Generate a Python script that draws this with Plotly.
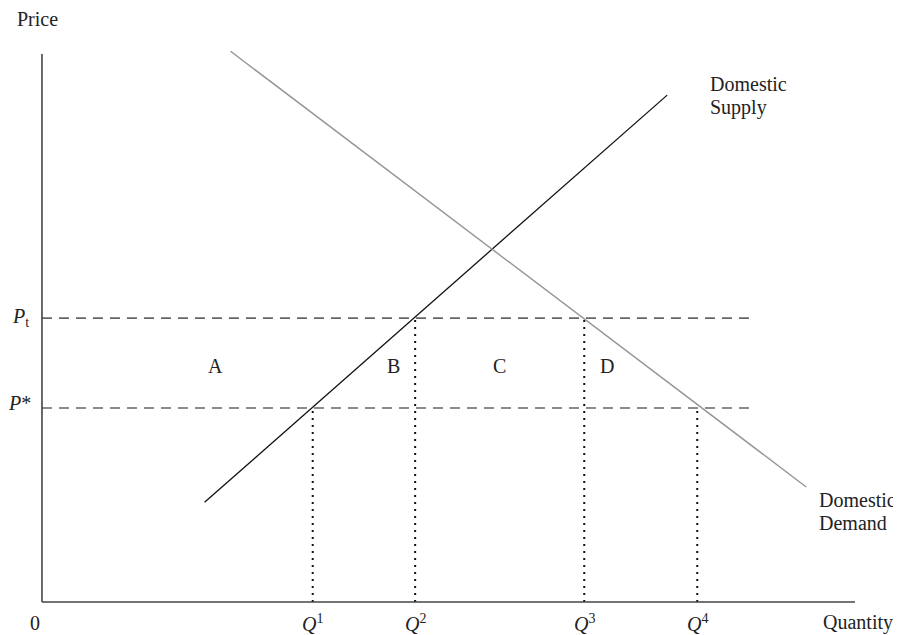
import plotly.graph_objects as go

# Economic values (quantity and price units)
q_values = [33.3, 45.9, 66.7, 80.6]
q_numbers = ["1", "2", "3", "4"]
p_tariff = 51.8
p_world = 35.4
supply_q = [20.0, 76.9]
supply_p = [18.2, 92.5]
demand_q = [23.2, 94.0]
demand_p = [100.5, 21.0]
price_line_end = 87.0
area_labels = ["A", "B", "C", "D"]
area_label_q = [21.4, 43.2, 56.3, 69.5]
area_label_p = 43.0
axis_max = 100

FONT = "Liberation Serif"
FS = 20

fig = go.Figure()

# price lines (dashed)
for p in [p_tariff, p_world]:
    fig.add_trace(go.Scatter(x=[0, price_line_end], y=[p, p], mode="lines",
                             line=dict(color="#666666", width=1.6, dash="10px,7px"),
                             hoverinfo="skip", showlegend=False))

# vertical dotted lines
q_tops = [p_world, p_tariff, p_tariff, p_world]
for q, top in zip(q_values, q_tops):
    fig.add_trace(go.Scatter(x=[q, q], y=[0, top], mode="lines",
                             line=dict(color="#111111", width=2, dash="2px,5px"),
                             hoverinfo="skip", showlegend=False))

# supply and demand
fig.add_trace(go.Scatter(x=supply_q, y=supply_p, mode="lines",
                         line=dict(color="#111111", width=1.3),
                         hoverinfo="skip", showlegend=False))
fig.add_trace(go.Scatter(x=demand_q, y=demand_p, mode="lines",
                         line=dict(color="#959595", width=1.4),
                         hoverinfo="skip", showlegend=False))

# axes lines
fig.add_shape(type="line", x0=0, x1=axis_max, y0=0, y1=0,
              line=dict(color="#444444", width=1.6))
fig.add_shape(type="line", x0=0, x1=0, y0=0, y1=axis_max,
              line=dict(color="#444444", width=1.6))

ann = []
def A(x, y, text, xanchor="center", yanchor="middle", align="center"):
    ann.append(dict(x=x, y=y, xref="x", yref="y",
                    text=text, showarrow=False,
                    xanchor=xanchor, yanchor=yanchor, align=align,
                    font=dict(family=FONT, size=FS, color="#222222")))

A(-0.5, 106.4, "Price")
A(-0.8, -3.8, "0")
A(100.4, -3.8, "Quantity")
for q, n in zip(q_values, q_numbers):
    A(q, -3.8, "<i>Q</i><sup>" + n + "</sup>")
A(-2.6, p_tariff + 0.2, "<i>P</i><sub>t</sub>")
A(-2.8, p_world + 1.0, "<i>P</i>*")
for q, t in zip(area_label_q, area_labels):
    A(q, area_label_p, t)
A(81.9, 94.5, "Domestic", xanchor="left", align="left")
A(81.9, 90.3, "Supply", xanchor="left", align="left")
A(95.3, 18.6, "Domestic", xanchor="left", align="left")
A(95.3, 14.5, "Demand", xanchor="left", align="left")

fig.update_layout(
    width=893, height=627,
    margin=dict(l=0, r=0, t=0, b=0),
    paper_bgcolor="white", plot_bgcolor="white",
    xaxis=dict(range=[-4.18, 105.66], visible=False, fixedrange=True),
    yaxis=dict(range=[-6.02, 108.4], visible=False, fixedrange=True),
    annotations=ann,
    showlegend=False,
)

fig.write_html("out.html")
